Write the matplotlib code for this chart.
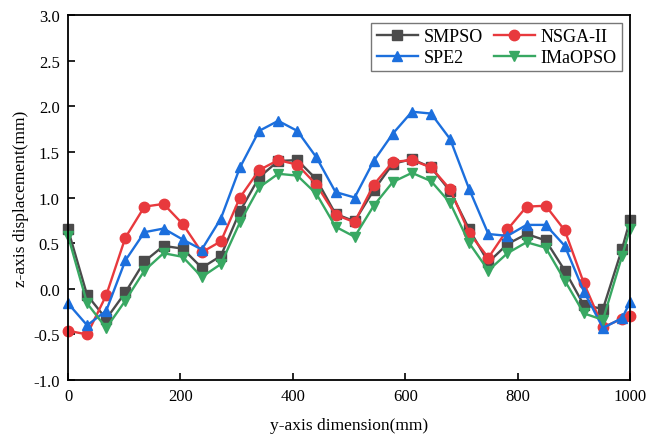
import numpy as np
import matplotlib
matplotlib.use("Agg")
import matplotlib.pyplot as plt

plt.rcParams["font.family"] = ["Liberation Serif", "DejaVu Serif"]

# positions along the y-axis of the part (mm)
pos_mm = [0, 34, 68, 102, 136, 170, 204, 238, 272, 306, 340, 374, 408, 442, 476,
          510, 544, 578, 612, 646, 680, 714, 748, 782, 816, 850, 884, 918, 952, 986, 1000]

# z-axis displacement (mm)
smpso = [0.65, -0.07, -0.33, -0.04, 0.30, 0.47, 0.44, 0.23, 0.36, 0.85, 1.22, 1.40, 1.41, 1.20, 0.82,
         0.74, 1.08, 1.37, 1.42, 1.33, 1.07, 0.65, 0.29, 0.49, 0.60, 0.53, 0.20, -0.18, -0.22, 0.44, 0.75]
nsga2 = [-0.46, -0.50, -0.07, 0.56, 0.90, 0.93, 0.71, 0.40, 0.52, 1.00, 1.30, 1.41, 1.36, 1.14, 0.81,
         0.73, 1.14, 1.39, 1.41, 1.33, 1.09, 0.61, 0.34, 0.65, 0.90, 0.91, 0.64, 0.06, -0.42, -0.33, -0.30]
spe2 = [-0.16, -0.40, -0.24, 0.31, 0.62, 0.66, 0.54, 0.43, 0.77, 1.33, 1.73, 1.84, 1.73, 1.44, 1.06,
        1.00, 1.40, 1.70, 1.94, 1.92, 1.64, 1.09, 0.60, 0.58, 0.70, 0.70, 0.47, -0.03, -0.43, -0.32, -0.15]
imaopso = [0.58, -0.16, -0.43, -0.13, 0.20, 0.39, 0.35, 0.13, 0.27, 0.73, 1.11, 1.26, 1.24, 1.04, 0.68,
           0.57, 0.91, 1.17, 1.27, 1.18, 0.94, 0.50, 0.20, 0.39, 0.51, 0.45, 0.09, -0.27, -0.34, 0.36, 0.66]

series = [
    ("SMPSO", smpso, "#4b4b4b", "s"),
    ("NSGA-II", nsga2, "#e8393d", "o"),
    ("SPE2", spe2, "#1c6fdd", "^"),
    ("IMaOPSO", imaopso, "#38a862", "v"),
]

fig = plt.figure(figsize=(6.51, 4.39), dpi=100)
ax = fig.add_axes([0.1045, 0.132, 0.8632, 0.8316])

lines = {}
for name, vals, col, mk in series:
    lines[name], = ax.plot(pos_mm, vals, color=col, marker=mk, markersize=7.5,
                           linewidth=1.7, label=name, clip_on=False)

ax.set_xlim(0, 1000)
ax.set_ylim(-1.0, 3.0)
ax.set_xticks([0, 200, 400, 600, 800, 1000])
ax.set_yticks(np.arange(-1.0, 3.01, 0.5))
ax.yaxis.set_major_formatter(matplotlib.ticker.FormatStrFormatter("%.1f"))
ax.tick_params(direction="in", length=5, width=1.2, labelsize=12, pad=6)
for sp in ax.spines.values():
    sp.set_linewidth(1.3)

ax.set_xlabel("y-axis dimension(mm)", fontsize=12.5, labelpad=9)
ax.set_ylabel("z-axis displacement(mm)", fontsize=12.5, labelpad=3)

# column-wise fill: SMPSO / SPE2 in column 1, NSGA-II / IMaOPSO in column 2
order = ["SMPSO", "SPE2", "NSGA-II", "IMaOPSO"]
leg = ax.legend([lines[n] for n in order], order, ncol=2, loc="upper right",
                bbox_to_anchor=(0.986, 0.978), borderaxespad=0, fontsize=13,
                frameon=True, fancybox=False, edgecolor="#555555", handlelength=2.3,
                columnspacing=0.6, handletextpad=0.3, borderpad=0.3, labelspacing=0.2)
leg.get_frame().set_linewidth(1.0)

fig.savefig("out.png", dpi=100)
